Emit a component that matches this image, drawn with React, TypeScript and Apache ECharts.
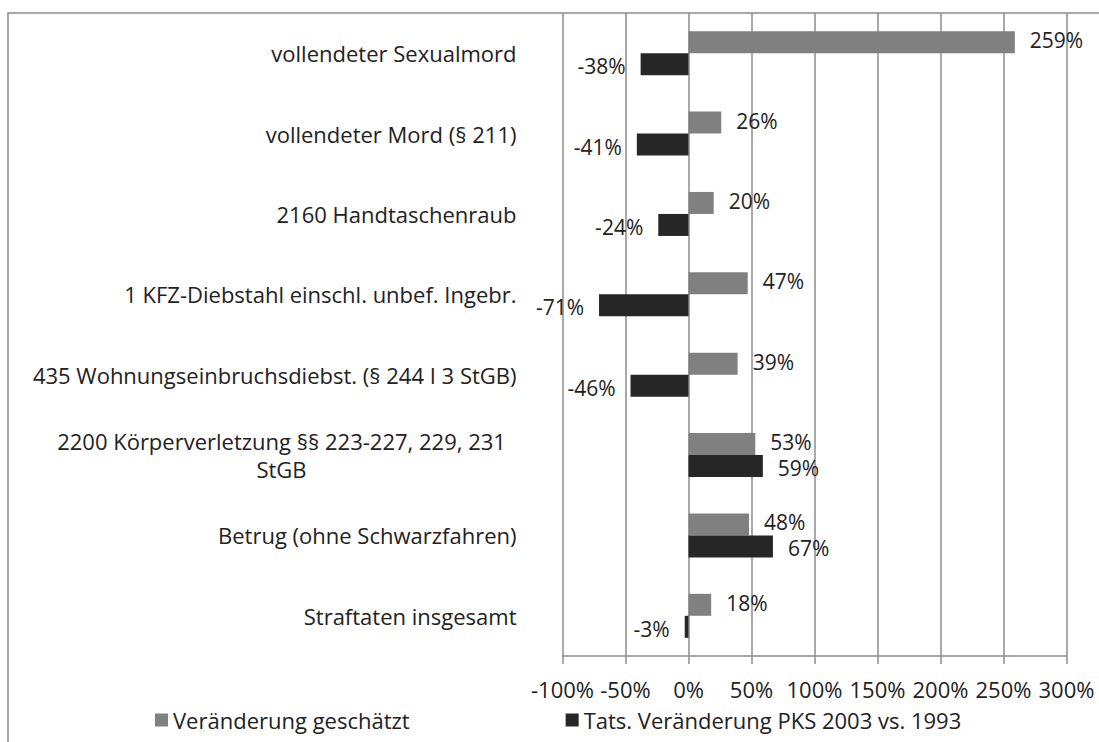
import React, { useEffect, useRef } from "react";
import * as echarts from "echarts";

const categories = [
  "vollendeter Sexualmord",
  "vollendeter Mord (§ 211)",
  "2160 Handtaschenraub",
  "1 KFZ-Diebstahl einschl. unbef. Ingebr.",
  "435 Wohnungseinbruchsdiebst. (§ 244 I 3 StGB)",
  "2200 Körperverletzung §§ 223-227, 229, 231\nStGB",
  "Betrug (ohne Schwarzfahren)",
  "Straftaten insgesamt",
];
const estimated = [259, 26, 20, 47, 39, 53, 48, 18];
const actual = [-38, -41, -24, -71, -46, 59, 67, -3];
const seriesNames = ["Veränderung geschätzt", "Tats. Veränderung PKS 2003 vs. 1993"];
const xMin = -100;
const xMax = 300;
const xStep = 50;

const FONT = "Open Sans";
const FS = 22;
const TEXT = "#222222";
const GRID = "#8c8c8c";

function toData(vals: number[]) {
  return vals.map((v) => ({
    value: v,
    label: { position: v < 0 ? "left" : "right" },
  }));
}

export default function App() {
  const ref = useRef<HTMLDivElement>(null);
  useEffect(() => {
    if (!ref.current) return;
    const chart = echarts.init(ref.current, undefined, { renderer: "svg" });
    chart.setOption({
      animation: false,
      backgroundColor: "#ffffff",
      textStyle: { fontFamily: FONT },
      graphic: [
        {
          type: "rect",
          shape: { x: 8, y: 13, width: 1200, height: 800 },
          style: { fill: "none", stroke: GRID, lineWidth: 1.5 },
          silent: true,
        },
      ],
      grid: { left: 562.5, right: 32.5, top: 13, bottom: 86, containLabel: false },
      legend: {
        bottom: 6,
        left: 150,
        itemWidth: 13,
        itemHeight: 13,
        itemGap: 156,
        icon: "rect",
        textStyle: { fontFamily: FONT, fontSize: FS, color: TEXT },
        data: seriesNames,
      },
      xAxis: {
        type: "value",
        min: xMin,
        max: xMax,
        interval: xStep,
        axisLine: { show: true, lineStyle: { color: GRID, width: 1.5 } },
        axisTick: { show: true, length: 8, lineStyle: { color: GRID, width: 1.5 } },
        splitLine: { show: true, lineStyle: { color: GRID, width: 1.5 } },
        axisLabel: {
          formatter: "{value}%",
          fontFamily: FONT,
          fontSize: FS,
          color: TEXT,
          margin: 22,
        },
      },
      yAxis: {
        type: "category",
        inverse: true,
        data: categories,
        axisLine: { show: false },
        axisTick: { show: false },
        axisLabel: {
          fontFamily: FONT,
          fontSize: FS,
          color: TEXT,
          margin: 46,
          formatter: (v: string) => {
            if (v.indexOf("\n") >= 0) {
              return v
                .split("\n")
                .map((l) => "{c|" + l + "}")
                .join("\n");
            }
            return v;
          },
          rich: {
            c: {
              width: 470,
              align: "center",
              fontFamily: FONT,
              fontSize: FS,
              color: TEXT,
              lineHeight: 28,
            },
          },
        },
      },
      series: [
        {
          name: seriesNames[0],
          type: "bar",
          data: toData(estimated),
          barWidth: 22,
          barGap: "0%",
          itemStyle: { color: "#808080" },
          label: {
            show: true,
            distance: 15,
            offset: [0, -2],
            formatter: "{c}%",
            fontFamily: FONT,
            fontSize: 21,
            lineHeight: 20,
            color: TEXT,
          },
        },
        {
          name: seriesNames[1],
          type: "bar",
          data: toData(actual),
          barWidth: 22,
          barGap: "0%",
          itemStyle: { color: "#262626" },
          label: {
            show: true,
            distance: 15,
            offset: [0, 2],
            formatter: "{c}%",
            fontFamily: FONT,
            fontSize: 21,
            lineHeight: 20,
            color: TEXT,
          },
        },
      ],
    });
    return () => chart.dispose();
  }, []);
  return (
    <div
      ref={ref}
      style={{ position: "fixed", left: 0, top: 0, width: 1099, height: 742 }}
    />
  );
}
